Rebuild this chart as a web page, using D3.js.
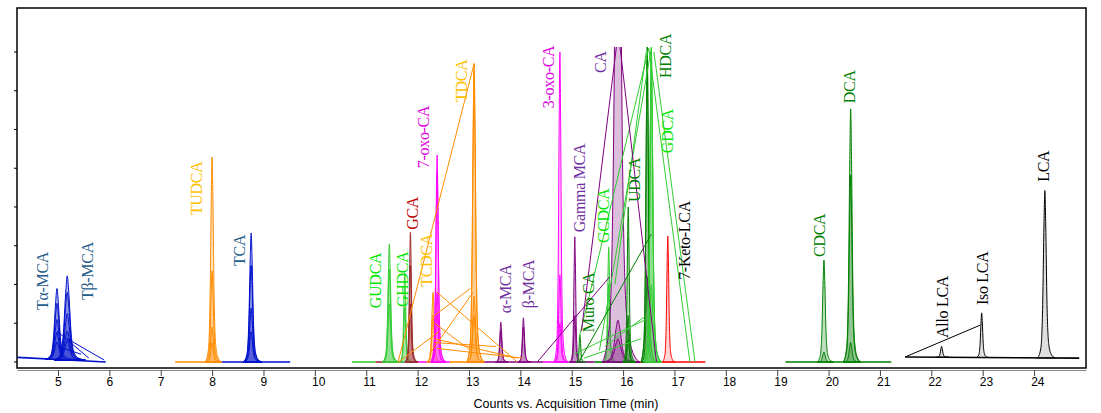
<!DOCTYPE html>
<html>
<head>
<meta charset="utf-8">
<script src="https://cdn.jsdelivr.net/npm/d3@7/dist/d3.min.js"></script>
<style>
  html, body { margin: 0; padding: 0; background: #fff; }
  svg { display: block; }
</style>
</head>
<body>
<svg id="chart" width="1101" height="413"></svg>
<script>
'use strict';

// ── Data ───────────────────────────────────────────────────────────────────
const xTicks = d3.range(5, 25);          // 5 … 24 min
const yTicks = d3.range(0, 9);           // unlabeled count ticks
const SAT = 8.13;                        // detector saturation (flat CA top)

// trace colour, fill colour
const colors = {
  blue:   ['#0010cc', '#2030d0'],
  orange: ['#ff8c00', '#ffa030'],
  lime:   ['#33cc33', '#55d055'],
  brown:  ['#9c2b2b', '#a84040'],
  mag:    ['#ff00ff', '#ff40ff'],
  purple: ['#800080', '#8a2a8a'],
  dgreen: ['#008000', '#2a902a'],
  red:    ['#ff0000', '#ff7070'],
  black:  ['#000000', '#999999']
};

// baseline pieces: colour, t start, t end, level start, level end
const baselines = [
  ['blue',   4.21, 5.93, 0.12, 0],
  ['orange', 7.28, 8.01, 0, 0],
  ['blue',   8.01, 9.52, 0, 0],
  ['lime',   10.72, 11.18, 0, 0],
  ['brown',  11.18, 11.65, 0, 0],
  ['mag',    11.65, 12.63, 0, 0],
  ['orange', 12.63, 12.98, 0, 0],
  ['purple', 12.98, 14.44, 0, 0],
  ['mag',    14.44, 14.94, 0, 0],
  ['purple', 14.94, 15.44, 0, 0],
  ['dgreen', 15.44, 16.05, 0, 0],
  ['red',    16.05, 17.60, 0, 0],
  ['dgreen', 19.16, 21.22, 0, 0],
  ['black',  21.49, 24.88, 0.13, 0.10]
];

// peaks: colour, retention time, half base width (min), heights of overlaid runs
const peaks = [
  ['blue',   4.98, 0.22, [1.83, 1.45, 1.03, 0.70, 0.45]],
  ['blue',   5.18, 0.25, [2.17, 1.75, 1.20, 0.75, 0.50]],
  ['orange', 8.00, 0.13, [5.29, 2.35, 0.90, 0.50]],
  ['blue',   8.76, 0.15, [3.33, 2.50, 1.39, 0.78]],
  ['lime',   11.45, 0.13, [3.05, 2.40, 1.50]],
  ['lime',   11.75, 0.10, [2.30, 1.40]],
  ['brown',  11.86, 0.10, [3.35, 2.50, 1.50]],
  ['orange', 12.30, 0.12, [1.80, 1.20]],
  ['mag',    12.38, 0.12, [5.34, 4.90, 1.80, 1.30]],
  ['orange', 13.10, 0.14, [7.70, 7.50, 1.70, 1.20]],
  ['purple', 13.62, 0.10, [1.03, 0.80]],
  ['purple', 14.06, 0.10, [1.14, 0.90]],
  ['mag',    14.77, 0.11, [8.00, 2.25, 1.00]],
  ['purple', 15.06, 0.09, [3.23, 1.20]],
  ['dgreen', 15.16, 0.08, [0.70]],
  ['lime',   15.72, 0.10, [2.97, 2.00]],
  ['purple', 15.90, 0.30, [16.0, 1.08, 0.60]],
  ['dgreen', 16.10, 0.10, [4.00, 1.20, 0.60]],
  ['dgreen', 16.47, 0.12, [8.17, 7.80, 2.20]],
  ['lime',   16.55, 0.14, [8.17, 8.00, 7.60, 2.00]],
  ['red',    16.87, 0.10, [3.25]],
  ['dgreen', 19.91, 0.13, [2.63, 0.26]],
  ['dgreen', 20.43, 0.14, [6.53, 4.83, 0.50]],
  ['black',  22.20, 0.10, [0.28]],
  ['black',  22.98, 0.10, [1.15]],
  ['black',  24.21, 0.14, [4.32]]
];

// normalized peak outline (x in half widths, y in heights)
const peakShape = [[-1, 0], [-0.55, 0.06], [-0.3, 0.32], [-0.12, 0.8], [0, 1],
                   [0.12, 0.8], [0.3, 0.32], [0.55, 0.08], [0.9, 0.02], [1.4, 0]];

// stray straight segments of the overlay (colour, t1, v1, t2, v2)
const strays = [
  ['blue',   4.98, 0.80, 5.60, 0.10],
  ['blue',   5.18, 0.60, 5.90, 0.05],
  ['blue',   5.00, 0.40, 5.45, 0.20],
  ['orange', 11.62, 0, 13.10, 7.70],
  ['orange', 12.38, 1.80, 13.94, 0],
  ['orange', 12.33, 0.60, 13.94, 0.10],
  ['orange', 12.33, 1.00, 13.03, 0.30],
  ['orange', 11.63, 0, 12.43, 0.80],
  ['orange', 12.33, 1.20, 13.03, 1.90],
  ['orange', 12.38, 0.35, 14.04, 0.10],
  ['orange', 12.23, 0.20, 13.08, 1.80],
  ['orange', 12.33, 0.50, 13.53, 0.40],
  ['lime',   16.50, 8.10, 17.30, 0],
  ['lime',   16.60, 8.00, 17.40, 0],
  ['lime',   16.50, 8.10, 15.14, 0.60],
  ['lime',   16.55, 8.10, 15.54, 0.30],
  ['lime',   16.45, 8.00, 15.84, 2.00],
  ['lime',   15.04, 0.20, 16.45, 1.10],
  ['lime',   15.64, 0.40, 16.45, 1.20],
  ['lime',   15.24, 0.10, 16.35, 0.60],
  ['dgreen', 15.14, 0, 16.55, 3.30],
  ['purple', 15.87, SAT, 15.19, 0.80],
  ['purple', 15.94, SAT, 16.65, 0],
  ['purple', 14.33, 0, 15.74, 2.20],
  ['black',  21.49, 0.13, 22.95, 0.95]
];

// compound labels: text, t of label centre, level of text start, colour
const labels = [
  ['Tα-MCA', 4.69, 1.34, '#1f5c8b'],
  ['Tβ-MCA', 5.58, 1.60, '#1f5c8b'],
  ['TUDCA', 7.70, 3.79, '#ffc000'],
  ['TCA', 8.54, 2.48, '#1f5c8b'],
  ['GUDCA', 11.18, 1.39, '#00e600'],
  ['GHDCA', 11.70, 1.42, '#00e600'],
  ['GCA', 11.91, 3.41, '#c00000'],
  ['TCDCA', 12.18, 1.94, '#ffc000'],
  ['7-oxo-CA', 12.11, 5.00, '#e000e0'],
  ['TDCA', 12.86, 6.71, '#ffc000'],
  ['α-MCA', 13.71, 1.26, '#7030a0'],
  ['β-MCA', 14.15, 1.39, '#7030a0'],
  ['3-oxo-CA', 14.54, 6.55, '#e000e0'],
  ['Gamma MCA', 15.16, 3.35, '#7030a0'],
  ['CA', 15.57, 7.46, '#7030a0'],
  ['Muro CA', 15.33, 0.77, '#008000'],
  ['GCDCA', 15.61, 3.07, '#00e600'],
  ['UDCA', 16.22, 4.13, '#008000'],
  ['HDCA', 16.82, 7.33, '#008000'],
  ['GDCA', 16.86, 5.39, '#00e600'],
  ['7-Keto-LCA', 17.19, 2.12, '#000000'],
  ['CDCA', 19.83, 2.71, '#008000'],
  ['DCA', 20.40, 6.68, '#008000'],
  ['Allo LCA', 22.21, 0.62, '#000000'],
  ['Iso LCA', 23.00, 1.47, '#000000'],
  ['LCA', 24.18, 4.65, '#000000']
];

// ── Layout ─────────────────────────────────────────────────────────────────
const LEFT = 17, RIGHT = 1086, TOP = 8, BOTTOM = 368, BASE_Y = 362;

const x = d3.scaleLinear().domain([4.202, 25.011]).range([LEFT, RIGHT]);
const y = d3.scaleLinear().domain([0, 9.135]).range([BASE_Y, TOP]);

const svg = d3.select('#chart');

svg.append('clipPath').attr('id', 'sat')
  .append('rect')
  .attr('x', LEFT).attr('y', y(SAT))
  .attr('width', RIGHT - LEFT).attr('height', BOTTOM - y(SAT));

const plot = svg.append('g').attr('clip-path', 'url(#sat)');

// baselines
baselines.forEach(([c, t0, t1, v0, v1]) => {
  plot.append('line')
    .attr('x1', x(t0)).attr('x2', x(t1))
    .attr('y1', y(v0)).attr('y2', y(v1))
    .attr('stroke', colors[c][0])
    .attr('stroke-width', 1.6);
});

// peaks
const area = d3.area()
  .x(d => x(d[0])).y0(d => y(d[2])).y1(d => y(d[1]))
  .curve(d3.curveMonotoneX);

const baseAt = t => {
  const b = baselines.find(s => t >= s[1] && t <= s[2]);
  if (!b) return 0;
  return b[3] + (b[4] - b[3]) * (t - b[1]) / (b[2] - b[1]);
};

peaks.forEach(([c, rt, w, heights]) => {
  const b = baseAt(rt);
  heights.forEach(h => {
    const pts = peakShape.map(([u, f]) => [rt + u * w, b + f * h, b]);
    plot.append('path')
      .attr('d', area(pts))
      .attr('fill', colors[c][1])
      .attr('fill-opacity', 0.3)
      .attr('stroke', colors[c][0])
      .attr('stroke-width', 1)
      .attr('stroke-linejoin', 'round');
  });
});

// stray connector segments
strays.forEach(([c, t1, v1, t2, v2]) => {
  plot.append('line')
    .attr('x1', x(t1)).attr('y1', y(v1))
    .attr('x2', x(t2)).attr('y2', y(v2))
    .attr('stroke', colors[c][0])
    .attr('stroke-width', 1);
});

// labels
labels.forEach(([txt, t, v, col]) => {
  svg.append('text')
    .attr('transform', `translate(${x(t)},${y(v)}) rotate(-90)`)
    .attr('dominant-baseline', 'central')
    .attr('fill', col)
    .attr('font-family', '"Liberation Serif", "DejaVu Serif", serif')
    .attr('font-size', '16px')
    .attr('letter-spacing', '-0.3px')
    .text(txt);
});

// ── Frame and axes ─────────────────────────────────────────────────────────
svg.append('rect')
  .attr('x', LEFT).attr('y', TOP)
  .attr('width', RIGHT - LEFT).attr('height', BOTTOM - TOP)
  .attr('fill', 'none')
  .attr('stroke', '#000')
  .attr('stroke-width', 1.5);

// unlabeled count ticks on the left
svg.append('g')
  .selectAll('line')
  .data(yTicks)
  .join('line')
  .attr('x1', LEFT - 3).attr('x2', LEFT)
  .attr('y1', d => y(d)).attr('y2', d => y(d))
  .attr('stroke', '#000');

const xAxis = d3.axisBottom(x)
  .tickValues(xTicks)
  .tickSize(6)
  .tickSizeOuter(0)
  .tickFormat(d3.format('d'));

// labels start just left of the tick, so two-digit numbers sit right of it
svg.append('g')
  .attr('transform', `translate(0, ${BOTTOM + 2})`)
  .call(xAxis)
  .call(ax => ax.select('.domain').attr('stroke', '#888'))
  .call(ax => ax.selectAll('.tick line').attr('stroke', '#444'))
  .call(ax => ax.selectAll('.tick text')
    .attr('font-family', '"Liberation Sans", Arial, sans-serif')
    .attr('font-size', '12px')
    .attr('fill', '#000')
    .attr('text-anchor', 'start')
    .attr('x', -3.4)
    .attr('y', 7)
    .attr('dy', '0.71em'));

svg.append('text')
  .attr('x', 566)
  .attr('y', 408)
  .attr('text-anchor', 'middle')
  .attr('font-family', '"Liberation Sans", Arial, sans-serif')
  .attr('font-size', '12.5px')
  .attr('fill', '#000')
  .text('Counts vs. Acquisition Time (min)');
</script>
</body>
</html>
